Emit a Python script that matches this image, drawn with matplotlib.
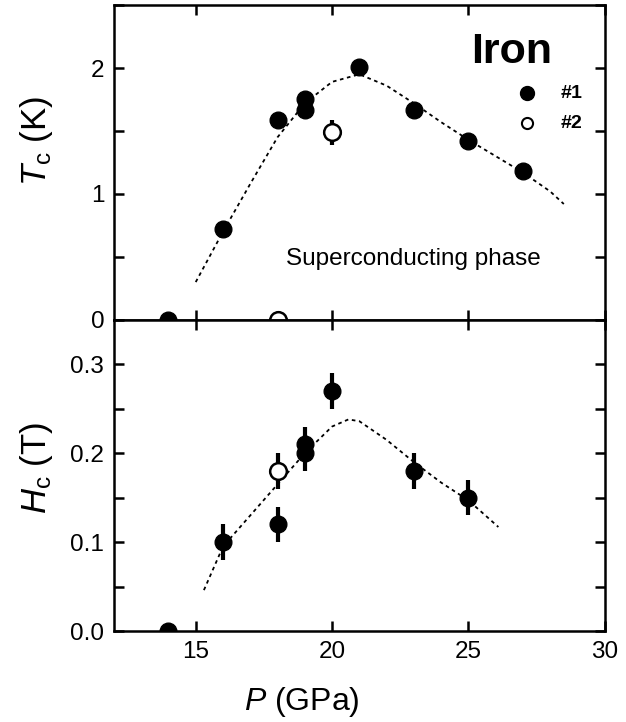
import numpy as np
import matplotlib
matplotlib.use("Agg")
import matplotlib.pyplot as plt
from matplotlib.ticker import MultipleLocator, FormatStrFormatter

# Tc data (K)
p_tc1 = [14, 16, 18, 19, 19, 21, 23, 25, 27]
tc1 = [0.0, 0.72, 1.59, 1.75, 1.67, 2.01, 1.67, 1.42, 1.18]
p_tc2 = [18, 20]
tc2 = [0.0, 1.49]
tc2_err = [0.0, 0.10]

# Hc data (T)
p_hc1 = [14, 16, 18, 19, 19, 20, 23, 25]
hc1 = [0.0, 0.10, 0.12, 0.21, 0.20, 0.27, 0.18, 0.15]
hc1_err = [0.0, 0.02, 0.02, 0.02, 0.02, 0.02, 0.02, 0.02]
p_hc2 = [18]
hc2 = [0.18]
hc2_err = [0.02]

# dotted guide curves
p_tc_fit = [15, 16, 17, 18, 19, 20, 21, 22, 23, 24, 25, 26, 27, 28, 28.5]
tc_fit = [0.30, 0.70, 1.08, 1.45, 1.72, 1.89, 1.95, 1.86, 1.72, 1.57, 1.43, 1.30, 1.17, 1.02, 0.92]
p_hc_fit = [15.3, 16, 17, 18, 19, 20, 20.6, 21, 22, 23, 24, 25, 26.1]
hc_fit = [0.046, 0.095, 0.13, 0.165, 0.200, 0.230, 0.238, 0.236, 0.215, 0.19, 0.167, 0.147, 0.117]

plt.rcParams.update({"font.family": ["Liberation Sans", "DejaVu Sans"], "font.size": 17,
                     "axes.linewidth": 1.8, "mathtext.fontset": "custom",
                     "mathtext.it": "Liberation Sans:italic", "mathtext.rm": "Liberation Sans"})

fig = plt.figure(figsize=(6.26, 7.22), dpi=100)
ax1 = fig.add_axes([0.182, 0.557, 0.784, 0.436])
ax2 = fig.add_axes([0.182, 0.126, 0.784, 0.431], sharex=ax1)

ms = 12
# top panel
ax1.plot(p_tc_fit, tc_fit, color="black", linestyle=(0, (2, 2)), linewidth=1.3)
ax1.plot(p_tc1, tc1, "o", color="black", markersize=ms)
ax1.errorbar(p_tc2, tc2, yerr=tc2_err, fmt="o", color="black", mfc="white", mew=1.8,
             markersize=ms, elinewidth=3, capsize=0)
ax1.set_xlim(12, 30)
ax1.set_ylim(0, 2.5)
ax1.yaxis.set_major_locator(MultipleLocator(1))
ax1.yaxis.set_minor_locator(MultipleLocator(0.5))
ax1.set_ylabel(r"$T_{\rm c}$ (K)", fontsize=25)
ax1.yaxis.set_label_coords(-0.12, 0.568)
ax1.tick_params(labelbottom=False)
ax1.text(26.6, 2.13, "Iron", fontsize=31, fontweight="bold", ha="center", va="center")
ax1.plot([27.15], [1.80], "o", color="black", markersize=10)
ax1.plot([27.15], [1.56], "o", color="black", mfc="white", mew=1.5, markersize=8)
ax1.text(28.4, 1.80, "#1", fontsize=14, fontweight="bold", va="center")
ax1.text(28.4, 1.56, "#2", fontsize=14, fontweight="bold", va="center")
ax1.text(23.0, 0.48, "Superconducting phase", fontsize=17.5, ha="center", va="center")

# bottom panel
ax2.plot(p_hc_fit, hc_fit, color="black", linestyle=(0, (2, 2)), linewidth=1.3)
ax2.errorbar(p_hc1, hc1, yerr=hc1_err, fmt="o", color="black", markersize=ms,
             elinewidth=3, capsize=0)
ax2.errorbar(p_hc2, hc2, yerr=hc2_err, fmt="o", color="black", mfc="white", mew=1.8,
             markersize=ms, elinewidth=3, capsize=0)
ax2.set_ylim(0, 0.35)
ax2.yaxis.set_major_locator(MultipleLocator(0.1))
ax2.yaxis.set_minor_locator(MultipleLocator(0.05))
ax2.xaxis.set_major_locator(MultipleLocator(5))
ax2.yaxis.set_major_formatter(FormatStrFormatter("%.1f"))
ax2.set_ylabel(r"$H_{\rm c}$ (T)", fontsize=25)
ax2.yaxis.set_label_coords(-0.12, 0.524)
ax2.set_xlabel(r"$P$ (GPa)", fontsize=23)
ax2.xaxis.set_label_coords(0.383, -0.175)

for ax in (ax1, ax2):
    ax.tick_params(which="both", direction="in", top=True, right=True,
                   length=7, width=1.8, labelsize=17.5, pad=7)

fig.savefig("out.png", dpi=100)
